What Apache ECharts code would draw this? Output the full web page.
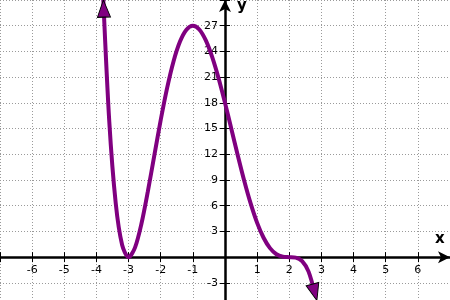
<!DOCTYPE html>
<html><head><meta charset="utf-8">
<script src="https://cdn.jsdelivr.net/npm/echarts@6/dist/echarts.min.js"></script>
<style>html,body{margin:0;padding:0;background:#fff}#c{width:450px;height:300px}</style>
</head><body><div id="c"></div>
<script>
// curve samples
var curveX = [-3.8,-3.6,-3.4,-3.2,-3.0,-2.8,-2.6,-2.4,-2.2,-2.0,-1.8,-1.6,-1.4,-1.2,-1.0,-0.8,-0.6,-0.4,-0.2,0,0.2,0.4,0.6,0.8,1.0,1.2,1.4,1.6,1.8,2.0,2.2,2.4,2.6,2.8];
var curveY = [31.2,15.8,6.3,1.41,0,1.11,3.89,7.67,11.85,16,19.75,22.86,25.15,26.54,27,26.56,25.31,23.36,20.87,18,14.93,11.84,8.89,6.24,4,2.26,1.05,0.34,0.05,0,-0.05,-0.47,-1.69,-4.31];
// arrowheads at the curve ends
var arrowX = [-3.775, 2.79];
var arrowY = [29.0, -4.1];
var arrowRot = [2, 195];
var xTicks = [-6,-5,-4,-3,-2,-1,1,2,3,4,5,6];
var yTicks = [-3,3,6,9,12,15,18,21,24,27];

var W = 450, H = 300;
var xMin = -7, xMax = 7, yMin = -6, yMax = 30, yBottomPx = -8.571;
var chart = echarts.init(document.getElementById('c'));
var font = 'DejaVu Sans, Verdana, sans-serif';
var grid = {left:0, right:0, top:0, bottom:yBottomPx, containLabel:false, outerBoundsMode:'none'};
// pixel position of the zero lines inside the grid
var gridH = H - yBottomPx;
var zeroYpx = gridH * (yMax - 0) / (yMax - yMin);
var zeroXpx = W * (0 - xMin) / (xMax - xMin);
function xLab(v){ return xTicks.indexOf(v) >= 0 ? String(v) : ''; }
function yLab(v){ return yTicks.indexOf(v) >= 0 ? String(v) : ''; }
var dotted = {color:'#9a9a9a', width:1, type:[1,2]};
var axLine = {color:'#000', width:2.5};
var tick = {show:true, inside:false, length:5, lineStyle:{color:'#000', width:1}};
chart.setOption({
  animation:false,
  grid: grid,
  xAxis:[{
    type:'value', min:xMin, max:xMax, interval:1, position:'bottom', offset: zeroYpx - gridH,
    axisLine:{show:true, onZero:false, lineStyle:axLine, symbol:['none','arrow'], symbolSize:[9,12]},
    axisTick:tick,
    axisLabel:{show:true, formatter:xLab, color:'#000', fontSize:11, fontFamily:font, margin:7},
    splitLine:{show:true, lineStyle:dotted}
  },{
    type:'value', min:xMin, max:xMax, interval:1, position:'top', offset: -zeroYpx,
    axisLine:{show:false, onZero:false}, axisTick:tick,
    axisLabel:{show:false}, splitLine:{show:false}
  }],
  yAxis:[{
    type:'value', min:yMin, max:yMax, interval:3, position:'left', offset: -zeroXpx,
    axisLine:{show:true, onZero:false, lineStyle:axLine, symbol:['none','arrow'], symbolSize:[9,12]},
    axisTick:tick,
    axisLabel:{show:true, formatter:yLab, color:'#000', fontSize:11, fontFamily:font, margin:7},
    splitLine:{show:true, lineStyle:dotted}
  },{
    type:'value', min:yMin, max:yMax, interval:3, position:'right', offset: -(W - zeroXpx),
    axisLine:{show:false, onZero:false}, axisTick:tick,
    axisLabel:{show:false}, splitLine:{show:false}
  }],
  graphic:[
    {type:'text', left:435, top:232, style:{text:'x', font:'bold 15px '+font, fill:'#000'}},
    {type:'text', left:237, top:-1, style:{text:'y', font:'bold 15px '+font, fill:'#000'}}
  ],
  series:[{
    type:'line', xAxisIndex:0, yAxisIndex:0, smooth:0.3, showSymbol:false, clip:false,
    data: curveX.map(function(x,i){return [x, curveY[i]];}),
    lineStyle:{color:'#800080', width:4}, z:5
  },{
    type:'scatter', xAxisIndex:0, yAxisIndex:0, symbol:'triangle', symbolSize:[13,17],
    data: arrowX.map(function(x,i){return {value:[x, arrowY[i]], symbolRotate:arrowRot[i]};}),
    itemStyle:{color:'#800080', borderColor:'#000', borderWidth:1, opacity:1}, z:6
  }]
});
</script></body></html>
